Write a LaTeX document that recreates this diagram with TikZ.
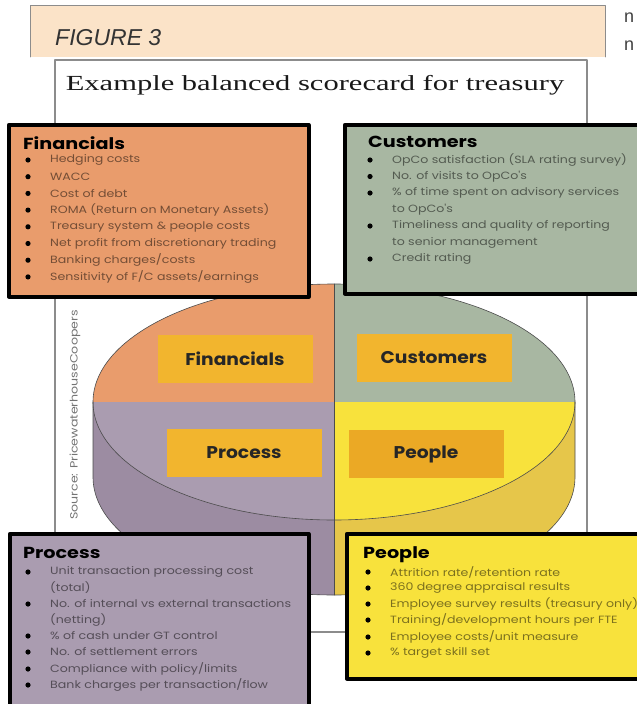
\documentclass[tikz,border=0pt]{standalone}
\usepackage{fontspec}
\setmainfont{Liberation Serif}
\newfontfamily\titlefont[FakeStretch=1.42]{Liberation Serif}
\newfontfamily\cardfont[FakeStretch=1.2]{Poppins}
\newfontfamily\tagfont[FakeStretch=1.1]{Poppins}
\newfontfamily\bannerfont{Liberation Sans}

\definecolor{bannerfill}{HTML}{FBE3C8}
\definecolor{finfill}{HTML}{E99C6C}
\definecolor{cusfill}{HTML}{A8B7A2}
\definecolor{profill}{HTML}{AA9CB0}
\definecolor{prodark}{HTML}{9C8CA2}
\definecolor{peofill}{HTML}{F8E23C}
\definecolor{peodark}{HTML}{E6C64A}
\definecolor{tagfill}{HTML}{F2B52E}
\definecolor{tagdark}{HTML}{EBA925}
\definecolor{framegrey}{HTML}{8C8C8C}

\tikzset{
  card/.style={draw=black, line width=3.5pt, anchor=north west, inner sep=0pt},
  cardhead/.style={anchor=base west, inner sep=0pt, font=\cardfont\bfseries\fontsize{16}{16}\selectfont},
  carditem/.style={anchor=west, inner sep=0pt, text opacity=0.5, font=\cardfont\fontsize{10.5}{10.5}\selectfont},
  tag/.style={fill=tagfill, minimum width=155pt, minimum height=48pt, text=black!85, font=\tagfont\bfseries\fontsize{17}{17}\selectfont},
  pieline/.style={draw=black!70, line width=0.6pt},
}

\begin{document}
\begin{tikzpicture}[x=1pt, y=-1pt, line cap=round, line join=round]
  \useasboundingbox (0,0) rectangle (637,704);
  \clip (0,0) rectangle (637,704);

  % Banner of the page
  \fill[bannerfill] (30,5) rectangle (605,57);
  \draw[framegrey, line width=0.8pt] (30,57) -- (30,5) -- (605,5) -- (605,57);
  \node[anchor=base west, inner sep=0pt, text=black!80, font=\bannerfont\itshape\fontsize{23}{23}\selectfont] (banner) at (55,45) {FIGURE 3};
  \node[anchor=base west, inner sep=0pt, text=black!75, font=\bannerfont\fontsize{18}{18}\selectfont] (edge1) at (624,23) {n};
  \node[anchor=base west, inner sep=0pt, text=black!75, font=\bannerfont\fontsize{18}{18}\selectfont] (edge2) at (624,50) {n};

  % Frame and title
  \draw[framegrey, line width=1.2pt] (55,60) rectangle (587,632);
  \node[anchor=base, inner sep=0pt, text=black!90, font=\titlefont\fontsize{21.5}{21.5}\selectfont] (title) at (315,90) {Example balanced scorecard for treasury};
  \node[rotate=90, inner sep=0pt, text=black!55, font=\cardfont\fontsize{10.5}{10.5}\selectfont] (source) at (75,415) {Source: PricewaterhouseCoopers};

  % Pie: centre (334,402), radii 241 and 118, depth 75
  \coordinate (O) at (334,402);
  \fill[prodark] (93,402) -- (93,477) arc[start angle=180, end angle=90, x radius=241, y radius=118] -- (334,402) -- cycle;
  \fill[peodark] (575,402) -- (575,477) arc[start angle=0, end angle=90, x radius=241, y radius=118] -- (334,402) -- cycle;
  \fill[finfill] (O) -- (93,402) arc[start angle=180, end angle=270, x radius=241, y radius=118] -- cycle;
  \fill[cusfill] (O) -- (575,402) arc[start angle=0, end angle=-90, x radius=241, y radius=118] -- cycle;
  \fill[profill] (O) -- (93,402) arc[start angle=180, end angle=90, x radius=241, y radius=118] -- cycle;
  \fill[peofill] (O) -- (575,402) arc[start angle=0, end angle=90, x radius=241, y radius=118] -- cycle;

  % Pie outlines
  \draw[pieline] (93,402) arc[start angle=180, end angle=-180, x radius=241, y radius=118];
  \draw[pieline] (93,402) -- (93,477) arc[start angle=180, end angle=0, x radius=241, y radius=118] -- (575,402);
  \draw[pieline] (334,284) -- (334,595);

  % Tags on the pie
  \node[tag] (fintag) at (235,359) {Financials};
  \node[tag] (custag) at (434,358) {Customers};
  \node[tag] (protag) at (244,453) {Process};
  \node[tag, fill=tagdark] (peotag) at (426,454) {People};

  % Cards
  \node[card, fill=finfill, minimum width=300pt, minimum height=172pt] (fincard) at (7,123) {};
  \node[card, fill=cusfill, minimum width=296pt, minimum height=169pt] (cuscard) at (343,123) {};
  \node[card, fill=profill, minimum width=299pt, minimum height=172pt] (procard) at (8,532) {};
  \node[card, fill=peofill, minimum width=294pt, minimum height=145pt] (peocard) at (345,532) {};

  % Financials
  \node[cardhead] (finhead) at (23,149) {Financials};
  \foreach \y/\b/\t in {160/1/{Hedging costs}, 176.7/1/{WACC}, 193.4/1/{Cost of debt},
      210.1/1/{ROMA (Return on Monetary Assets)}, 226.8/1/{Treasury system \& people costs},
      243.5/1/{Net profit from discretionary trading}, 260.2/1/{Banking charges/costs},
      276.9/1/{Sensitivity of F/C assets/earnings}} {
    \ifnum\b=1 \fill (28,\y) circle (2.6pt); \fi
    \node[carditem] (fin\y) at (50,\y) {\t};
  }

  % Customers
  \node[cardhead] (cushead) at (368,147) {Customers};
  \foreach \y/\b/\t in {160/1/{OpCo satisfaction (SLA rating survey)}, 176.5/1/{No. of visits to OpCo's},
      193/1/{\% of time spent on advisory services}, 209.5/0/{to OpCo's},
      226/1/{Timeliness and quality of reporting}, 242.5/0/{to senior management},
      259/1/{Credit rating}} {
    \ifnum\b=1 \fill (370,\y) circle (2.6pt); \fi
    \node[carditem] (cus\y) at (392,\y) {\t};
  }

  % Process
  \node[cardhead] (prohead) at (23,558) {Process};
  \foreach \y/\b/\t in {572/1/{Unit transaction processing cost}, 588/0/{(total)},
      604/1/{No. of internal vs external transactions}, 620/0/{(netting)},
      636/1/{\% of cash under GT control}, 652/1/{No. of settlement errors},
      669/1/{Compliance with policy/limits}, 685/1/{Bank charges per transaction/flow}} {
    \ifnum\b=1 \fill (28,\y) circle (2.6pt); \fi
    \node[carditem] (pro\y) at (50,\y) {\t};
  }

  % People
  \node[cardhead] (peohead) at (363,558) {People};
  \foreach \y/\b/\t in {572/1/{Attrition rate/retention rate}, 588/1/{360 degree appraisal results},
      604/1/{Employee survey results (treasury only)}, 620/1/{Training/development hours per FTE},
      637/1/{Employee costs/unit measure}, 653/1/{\% target skill set}} {
    \ifnum\b=1 \fill (368,\y) circle (2.6pt); \fi
    \node[carditem] (peo\y) at (390,\y) {\t};
  }

\end{tikzpicture}
\end{document}
